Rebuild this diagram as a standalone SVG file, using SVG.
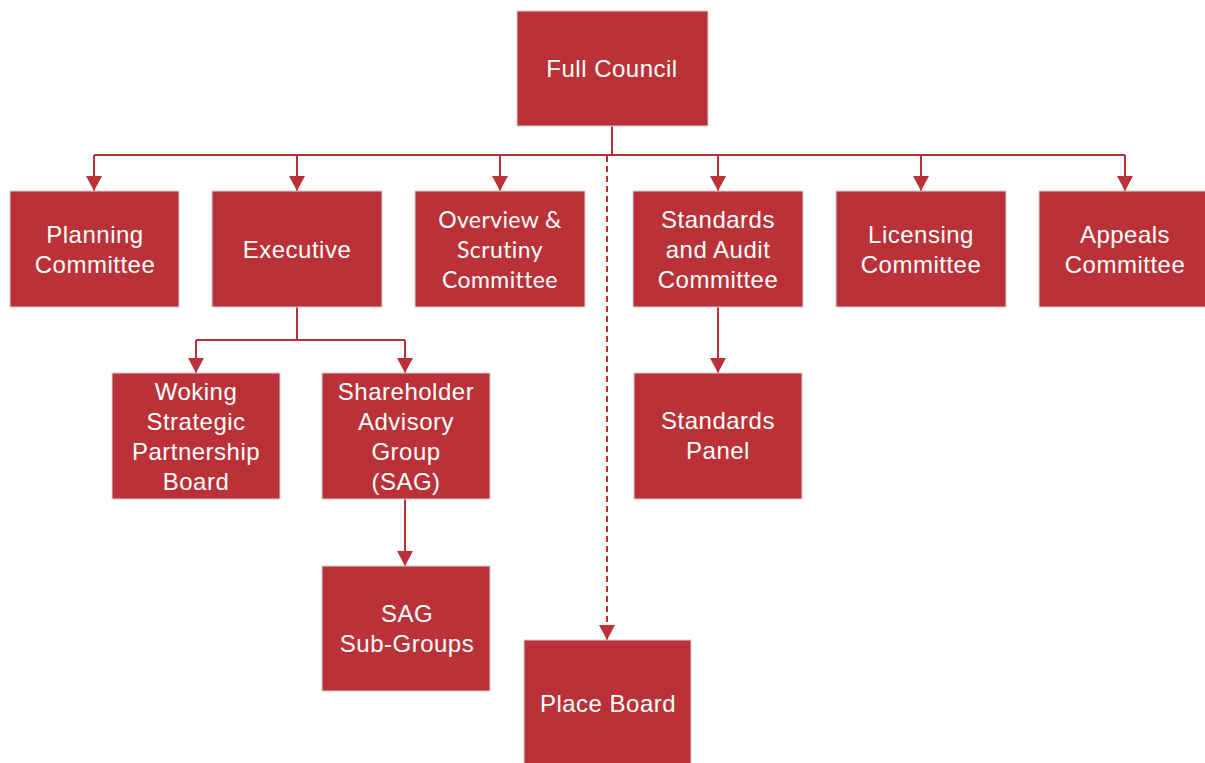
<svg xmlns="http://www.w3.org/2000/svg" width="1205" height="763" viewBox="0 0 1205 763">
  <style>
    .box { fill: #BA3238; stroke: #d6d0d0; stroke-width: 1; }
    .lbl { fill: #ffffff; font-family: "Liberation Sans", Arial, sans-serif; font-size: 24px; letter-spacing: 0.5px; text-anchor: middle; }
    .alt { fill: #ffffff; font-family: Lato, "Open Sans", sans-serif; font-size: 23px; letter-spacing: 0.4px; text-anchor: middle; }
    .wire { fill: none; stroke: #BA3238; stroke-width: 2; }
    .dash { stroke-dasharray: 6 4; }
  </style>
  <defs>
    <marker id="arrow" markerUnits="userSpaceOnUse" markerWidth="16" markerHeight="16" refX="15" refY="8" orient="auto">
      <path d="M0,0 L15,8 L0,16 z" fill="#BA3238"/>
    </marker>
  </defs>

  <!-- connectors -->
  <g id="connectors">
    <path class="wire" d="M612,126 V155"/>
    <path class="wire" d="M94,155 H1125"/>
    <path class="wire" d="M94,155 V191" marker-end="url(#arrow)"/>
    <path class="wire" d="M297,155 V191" marker-end="url(#arrow)"/>
    <path class="wire" d="M500,155 V191" marker-end="url(#arrow)"/>
    <path class="wire" d="M718,155 V191" marker-end="url(#arrow)"/>
    <path class="wire" d="M921,155 V191" marker-end="url(#arrow)"/>
    <path class="wire" d="M1125,155 V191" marker-end="url(#arrow)"/>
    <path class="wire dash" d="M607,156 V640" marker-end="url(#arrow)"/>
    <path class="wire" d="M297,307 V340"/>
    <path class="wire" d="M196,340 H405"/>
    <path class="wire" d="M196,340 V373" marker-end="url(#arrow)"/>
    <path class="wire" d="M405,340 V373" marker-end="url(#arrow)"/>
    <path class="wire" d="M405,499 V566" marker-end="url(#arrow)"/>
    <path class="wire" d="M718,307 V373" marker-end="url(#arrow)"/>
  </g>

  <g id="full-council">
    <rect class="box" x="517" y="11" width="191" height="115"/>
    <text class="lbl" x="612" y="77">Full Council</text>
  </g>

  <g id="planning">
    <rect class="box" x="10" y="191" width="169" height="116"/>
    <text class="lbl" x="95" y="243">Planning</text>
    <text class="lbl" x="95" y="273">Committee</text>
  </g>

  <g id="executive">
    <rect class="box" x="212" y="191" width="170" height="116"/>
    <text class="lbl" x="297" y="258">Executive</text>
  </g>

  <g id="overview-scrutiny">
    <rect class="box" x="415" y="191" width="170" height="116"/>
    <text class="alt" x="500" y="228">Overview &amp;</text>
    <text class="alt" x="500" y="258">Scrutiny</text>
    <text class="alt" x="500" y="288">Committee</text>
  </g>

  <g id="standards-audit">
    <rect class="box" x="633" y="191" width="170" height="116"/>
    <text class="lbl" x="718" y="228">Standards</text>
    <text class="lbl" x="718" y="258">and Audit</text>
    <text class="lbl" x="718" y="288">Committee</text>
  </g>

  <g id="licensing">
    <rect class="box" x="836" y="191" width="170" height="116"/>
    <text class="lbl" x="921" y="243">Licensing</text>
    <text class="lbl" x="921" y="273">Committee</text>
  </g>

  <g id="appeals">
    <rect class="box" x="1039" y="191" width="172" height="116"/>
    <text class="lbl" x="1125" y="243">Appeals</text>
    <text class="lbl" x="1125" y="273">Committee</text>
  </g>

  <g id="woking-board">
    <rect class="box" x="112" y="373" width="168" height="126"/>
    <text class="lbl" x="196" y="400">Woking</text>
    <text class="lbl" x="196" y="430">Strategic</text>
    <text class="lbl" x="196" y="460">Partnership</text>
    <text class="lbl" x="196" y="490">Board</text>
  </g>

  <g id="sag">
    <rect class="box" x="322" y="373" width="168" height="126"/>
    <text class="lbl" x="406" y="400">Shareholder</text>
    <text class="lbl" x="406" y="430">Advisory</text>
    <text class="lbl" x="406" y="460">Group</text>
    <text class="lbl" x="406" y="490">(SAG)</text>
  </g>

  <g id="standards-panel">
    <rect class="box" x="634" y="373" width="168" height="126"/>
    <text class="lbl" x="718" y="429">Standards</text>
    <text class="lbl" x="718" y="459">Panel</text>
  </g>

  <g id="sag-subgroups">
    <rect class="box" x="322" y="566" width="168" height="125"/>
    <text class="lbl" x="407" y="622">SAG</text>
    <text class="lbl" x="407" y="652">Sub-Groups</text>
  </g>

  <g id="place-board">
    <rect class="box" x="524" y="640" width="167" height="130"/>
    <text class="lbl" x="608" y="712">Place Board</text>
  </g>
</svg>
